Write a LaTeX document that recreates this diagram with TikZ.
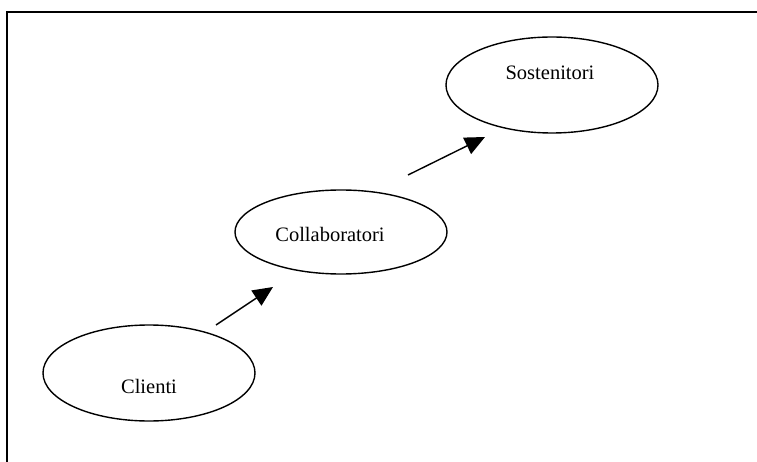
\documentclass[tikz,border=0pt]{standalone}
\usepackage{fontspec}
\setmainfont{Liberation Serif}
\usetikzlibrary{shapes.geometric, arrows.meta}

\tikzset{
  bubble/.style={draw, ellipse, line width=1.4pt, minimum width=212pt, minimum height=96pt, inner sep=0pt},
  bubbletext/.style={font=\fontsize{20.5}{24}\selectfont, inner sep=0pt},
  flow/.style={line width=1.4pt, -{Triangle[length=20pt, width=18pt]}}
}

\begin{document}
\begin{tikzpicture}[x=1pt, y=-1pt]
    \useasboundingbox (0,0) rectangle (757,462);
    % Frame
    \draw[line width=2pt] (7,462) -- (7,12.5) -- (757,12.5);
    % Ellipses
    \node[bubble] (clienti) at (149,373) {};
    \node[bubble, minimum height=84pt] (collab) at (341,232) {};
    \node[bubble] (sosten) at (552,85) {};
    % Labels
    \node[bubbletext] (clientiText) at (149,386) {Clienti};
    \node[bubbletext] (collabText) at (330,234) {Collaboratori};
    \node[bubbletext] (sostenText) at (550,73) {Sostenitori};
    % Arrows
    \coordinate (a1) at (216,325);
    \coordinate (b1) at (273,287);
    \coordinate (a2) at (408,175);
    \coordinate (b2) at (485,137);
    \draw[flow] (a1) -- (b1);
    \draw[flow] (a2) -- (b2);
\end{tikzpicture}
\end{document}
